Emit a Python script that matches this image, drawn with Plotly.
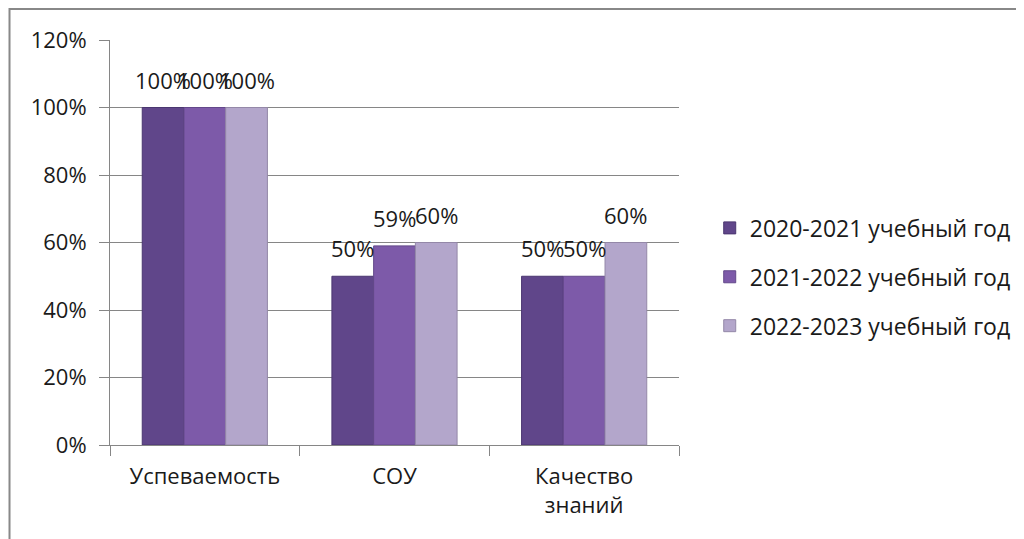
import plotly.graph_objects as go

categories = ["Успеваемость", "СОУ", "Качество<br>знаний"]
series_names = ["2020-2021 учебный год", "2021-2022 учебный год", "2022-2023 учебный год"]
values_2020 = [1.00, 0.50, 0.50]
values_2021 = [1.00, 0.59, 0.50]
values_2022 = [1.00, 0.60, 0.60]
colors = ["#60468a", "#7d5aa9", "#b3a6cb"]
edge_colors = ["#4a3670", "#63488a", "#9488a8"]

FONT = "Open Sans"
plot_w = 569
bargap = 0.34
bar_px = plot_w / len(categories) * (1 - bargap) / len(series_names)

fig = go.Figure()
annotations = []
all_vals = [values_2020, values_2021, values_2022]
for i, (name, vals, c, ec) in enumerate(zip(series_names, all_vals, colors, edge_colors)):
    fig.add_trace(go.Bar(
        x=categories, y=vals, name=name, legendgroup=name,
        marker=dict(color=c, line=dict(color=ec, width=1)),
    ))
    for cat, v in zip(categories, vals):
        annotations.append(dict(
            x=cat, y=v, xref="x", yref="y", text=f"{v*100:.0f}%",
            showarrow=False, yanchor="middle", yshift=28,
            xshift=(i - 1) * bar_px,
            font=dict(size=22, color="#1a1a1a", family=FONT),
        ))

fig.update_layout(
    width=1024, height=539,
    paper_bgcolor="white", plot_bgcolor="white",
    margin=dict(l=102, r=353, t=32, b=102, autoexpand=False),
    barmode="group", bargap=bargap, bargroupgap=0,
    font=dict(family=FONT, size=23, color="#1a1a1a"),
    showlegend=True,
    legend=dict(x=1.054, y=0.415, xanchor="left", yanchor="middle",
                font=dict(size=23, color="#1a1a1a"), tracegroupgap=16,
                itemwidth=30),
    xaxis=dict(showline=True, linecolor="#868686", linewidth=1,
               ticks="outside", tickson="boundaries", ticklen=10, tickcolor="#868686",
               tickfont=dict(size=22), showgrid=False, automargin=False,
               ticklabelstandoff=12),
    yaxis=dict(range=[0, 1.2], dtick=0.2, tickformat=".0%",
               showline=True, linecolor="#868686", linewidth=1,
               ticks="outside", ticklen=10, tickcolor="#868686",
               showgrid=True, gridcolor="#868686", gridwidth=1,
               tickfont=dict(size=22), zeroline=False, automargin=False,
               ticklabelstandoff=8),
    annotations=annotations,
    shapes=[dict(type="rect", xref="paper", yref="paper",
                 x0=-0.1766, x1=1.8, y0=-0.4, y1=1.0765,
                 line=dict(color="#888888", width=2), layer="above")],
)

fig.write_html("out.html")
